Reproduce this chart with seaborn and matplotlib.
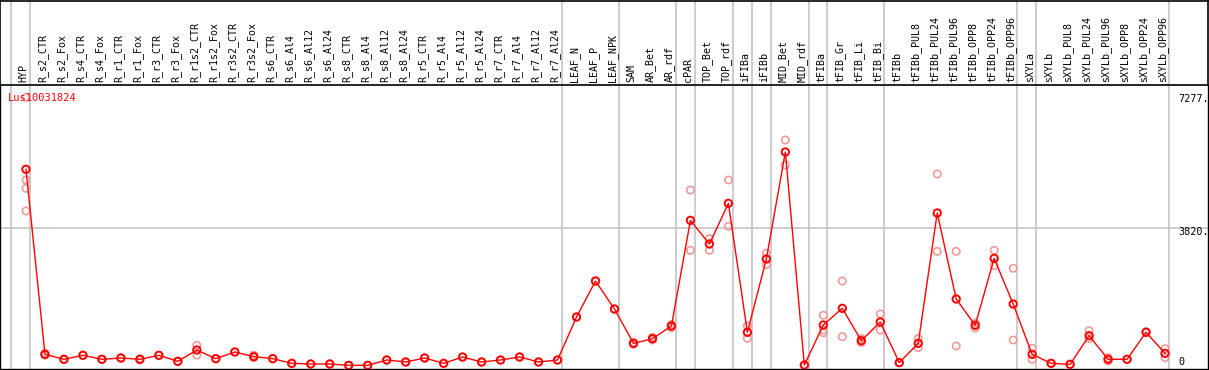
import numpy as np
import pandas as pd
import seaborn as sns
import matplotlib.pyplot as plt

labels = ["HYP", "R_s2_CTR", "R_s2_Fox", "R_s4_CTR", "R_s4_Fox", "R_r1_CTR", "R_r1_Fox",
          "R_r3_CTR", "R_r3_Fox", "R_r1s2_CTR", "R_r1s2_Fox", "R_r3s2_CTR", "R_r3s2_Fox",
          "R_s6_CTR", "R_s6_Al4", "R_s6_Al12", "R_s6_Al24", "R_s8_CTR", "R_s8_Al4",
          "R_s8_Al12", "R_s8_Al24", "R_r5_CTR", "R_r5_Al4", "R_r5_Al12", "R_r5_Al24",
          "R_r7_CTR", "R_r7_Al4", "R_r7_Al12", "R_r7_Al24", "LEAF_N", "LEAF_P", "LEAF_NPK",
          "SAM", "AR_Bet", "AR_rdf", "cPAR", "TOP_Bet", "TOP_rdf", "iFIBa", "iFIBb",
          "MID_Bet", "MID_rdf", "tFIBa", "tFIB_Gr", "tFIB_Li", "tFIB_Bi", "tFIBb",
          "tFIBb_PUL8", "tFIBb_PUL24", "tFIBb_PUL96", "tFIBb_OPP8", "tFIBb_OPP24",
          "tFIBb_OPP96", "sXYLa", "sXYLb", "sXYLb_PUL8", "sXYLb_PUL24", "sXYLb_PUL96",
          "sXYLb_OPP8", "sXYLb_OPP24", "sXYLb_OPP96"]

means = [5440, 323, 185, 296, 185, 221, 185, 296, 129, 442, 203, 387, 258, 203, 74,
         55, 55, 18, 18, 166, 111, 221, 74, 249, 111, 166, 249, 111, 166, 1355, 2350, 1576,
         627, 756, 1106, 4028, 3374, 4498, 931, 2959, 5918, 28, 1134, 1595, 700, 1217, 92,
         627, 4231, 1853, 1125, 2977, 1715, 323, 74, 46, 838, 185, 185, 931, 350]

# replicate values (only where they separate visibly from the mean)
reps = [[7430, 5144, 4914, 4286], [300, 350], [185], [296], [185], [221], [170, 200],
        [296], [129], [572, 304], [203], [387], [300, 230], [203], [74],
        [55], [55], [18], [18], [166], [111], [221], [74], [249], [111],
        [166], [249], [111], [166], [1355], [2350], [1576],
        [600, 650], [720, 790], [1060, 1150], [4867, 3199], [3522, 3199], [5144, 3863],
        [1106, 765], [3116, 2803], [6250, 5559], [28], [1401, 922, 1000], [2350, 811],
        [650, 760], [1438, 996], [92],
        [765, 507], [5310, 3171], [3171, 553], [1050, 1180], [3199, 2775], [2702, 719],
        [489, 185], [74], [46], [977, 760], [230, 140], [185], [950], [480, 230]]

grid_after = [-1, 0, 28, 31, 34, 35, 37, 38, 39, 41, 42, 45, 52, 53, 60]

W, H = 1209, 370
x_left = -26 / 19
x_right = (W - 26) / 19
y_lo, y_hi = -83, 7743

fig = plt.figure(figsize=(W / 100, H / 100), dpi=100)
ax = fig.add_axes([0, 1 / H, (W - 1) / W, (369 - 86) / H])
axh = fig.add_axes([0, (370 - 85) / H, (W - 1) / W, 84 / H])

mono = "DejaVu Sans Mono"
red = "#ff0000"
pink = "#f09a9a"

x = np.arange(len(labels))
rep_df = pd.DataFrame([(i, v) for i, r in enumerate(reps) for v in r], columns=["x", "value"])
mean_df = pd.DataFrame({"x": x, "value": means})

for a in (ax, axh):
    for g in grid_after:
        a.axvline(g + 0.22, color="#c4c4c4", lw=1.2, zorder=0)
ax.axhline(3820, color="#c4c4c4", lw=1.2, zorder=0)

sns.scatterplot(data=rep_df, x="x", y="value", ax=ax, marker="o", s=28,
                facecolors="none", edgecolors=pink, linewidths=1.2, zorder=2)
sns.lineplot(data=mean_df, x="x", y="value", ax=ax, color=red, lw=1, zorder=3)
sns.scatterplot(data=mean_df, x="x", y="value", ax=ax, marker="o", s=28,
                facecolors="none", edgecolors=red, linewidths=1.4, zorder=4)

ax.set_xlim(x_left, x_right)
ax.set_ylim(y_lo, y_hi)
ax.set_xticks([])
ax.set_yticks([])
ax.set_xlabel("")
ax.set_ylabel("")
for s in ax.spines.values():
    s.set_color("black")
    s.set_linewidth(1)
ax.spines["top"].set_visible(False)

ax.text(-0.95, 7400, "Lus10031824", color=red, family=mono, fontsize=7.5,
        ha="left", va="center", zorder=5)
for val, txt, yv in [(7277, "7277.", 7277 + 120), (3820, "3820.", 3820 - 120), (0, "0", 110)]:
    ax.text(60.7, yv, txt, family=mono, fontsize=7.3, ha="left", va="center")

axh.set_xlim(x_left, x_right)
axh.set_ylim(0, 1)
axh.set_xticks([])
axh.set_yticks([])
for s in axh.spines.values():
    s.set_color("black")
    s.set_linewidth(1.2)
for i, lab in enumerate(labels):
    axh.text(i - 0.12, 0.03, lab, rotation=90, family=mono, fontsize=7.2,
             ha="center", va="bottom")

fig.savefig("out.png", dpi=100)
